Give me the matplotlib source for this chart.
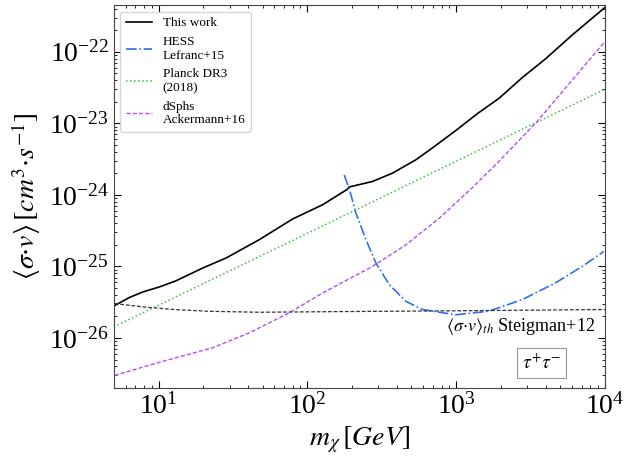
import matplotlib
matplotlib.use("Agg")
import matplotlib.pyplot as plt
from matplotlib.ticker import NullFormatter

plt.rcParams['font.family'] = 'serif'
plt.rcParams['font.serif'] = ['Liberation Serif', 'DejaVu Serif']
plt.rcParams['mathtext.fontset'] = 'stix'

# this work (tau+ tau-)
m_work = [5.07, 6.4, 7.85, 10.2, 13.1, 19.8, 28.4, 47.6, 79.6, 127, 186, 191, 274, 373, 536,
          700, 1000, 1400, 1945, 2800, 4000, 6000, 10000]
sv_work = [2.84e-26, 3.7e-26, 4.4e-26, 5.2e-26, 6.3e-26, 9.5e-26, 1.31e-25, 2.37e-25, 4.6e-25, 7.3e-25,
           1.2e-24, 1.29e-24, 1.54e-24, 2.01e-24, 3.09e-24,
           4.6e-24, 8.0e-24, 1.38e-23, 2.24e-23, 4.4e-23, 8.0e-23, 1.7e-22, 4.16e-22]

# HESS, Lefranc+15
m_hess = [177, 191, 212, 248, 289, 355, 459, 594, 995, 1663, 2786, 4667, 7040, 9840]
sv_hess = [1.9e-24, 1.24e-24, 5.6e-25, 2.37e-25, 1.12e-25, 5.6e-26, 3.26e-26, 2.5e-26, 2.11e-26,
           2.37e-26, 3.44e-26, 5.9e-26, 1.0e-25, 1.62e-25]

# Planck DR3 (2018)
m_planck = [5, 100, 1000, 10000]
sv_planck = [1.43e-26, 2.9e-25, 2.95e-24, 2.99e-23]

# dSphs, Ackermann+16
m_dsph = [5.07, 10.2, 23.1, 40.8, 75.7, 127, 191, 274, 459, 769, 1285, 1945, 3515, 9890]
sv_dsph = [3.0e-27, 4.6e-27, 7.3e-27, 1.18e-26, 2.25e-26, 4.27e-26, 6.7e-26, 1.0e-25, 2.0e-25,
           4.7e-25, 1.26e-24, 2.95e-24, 1.07e-23, 1.35e-22]

# thermal relic, Steigman+12
m_th = [5.07, 7.85, 13.1, 22.0, 47.6, 173, 1000, 10000]
sv_th = [3.03e-26, 2.72e-26, 2.49e-26, 2.36e-26, 2.29e-26, 2.34e-26, 2.4e-26, 2.5e-26]

x_ticks = [10, 100, 1000, 10000]
y_ticks = [1e-26, 1e-25, 1e-24, 1e-23, 1e-22]

fig = plt.figure(figsize=(6.32, 4.63), dpi=100)
ax = fig.add_axes([0.180, 0.162, 0.777, 0.827])

ax.plot(m_work, sv_work, color='black', lw=1.2, label='This work')
ax.plot(m_hess, sv_hess, color='#2f6ff0', lw=1.2, ls='-.', label='HESS\nLefranc+15')
ax.plot(m_planck, sv_planck, color='#3cbf3c', lw=1.1, ls=':', label='Planck DR3\n(2018)')
ax.plot(m_dsph, sv_dsph, color='#b050f0', lw=1.0, ls=(0, (3, 1.5)), label='dSphs\nAckermann+16')
ax.plot(m_th, sv_th, color='#333333', lw=0.9, ls=(0, (3, 1.5)))

ax.set_xscale('log')
ax.set_yscale('log')
ax.set_xticks(x_ticks)
ax.set_yticks(y_ticks)
ax.set_xlim(5, 1e4)
ax.set_ylim(2e-27, 4.5e-22)

ax.tick_params(which='both', direction='in', top=True, right=True, labelsize=20)
ax.tick_params(which='major', length=5)
ax.tick_params(which='minor', length=2.5)
ax.xaxis.set_minor_formatter(NullFormatter())
ax.yaxis.set_minor_formatter(NullFormatter())
for sp in ax.spines.values():
    sp.set_linewidth(0.8)
    sp.set_color('#444444')

ax.set_xlabel(r'$m_{\chi}\,[GeV]$', fontsize=20)
ax.set_ylabel(r'$\langle\sigma{\cdot}v\rangle\,[cm^3{\cdot}s^{-1}]$', fontsize=20)

ax.legend(loc='upper left', fontsize=9.5, frameon=True, edgecolor='#cccccc', fancybox=True)

ax.text(0.98, 0.16, r'$\langle\sigma{\cdot}v\rangle_{th}$ Steigman+12', transform=ax.transAxes,
        ha='right', va='center', fontsize=13)
ax.text(0.872, 0.065, r'$\tau^{+}\tau^{-}$', transform=ax.transAxes, ha='center', va='center',
        fontsize=14, bbox=dict(boxstyle='square,pad=0.25', fc='white', ec='#999999', lw=0.8))

fig.savefig('out.png', dpi=100)
